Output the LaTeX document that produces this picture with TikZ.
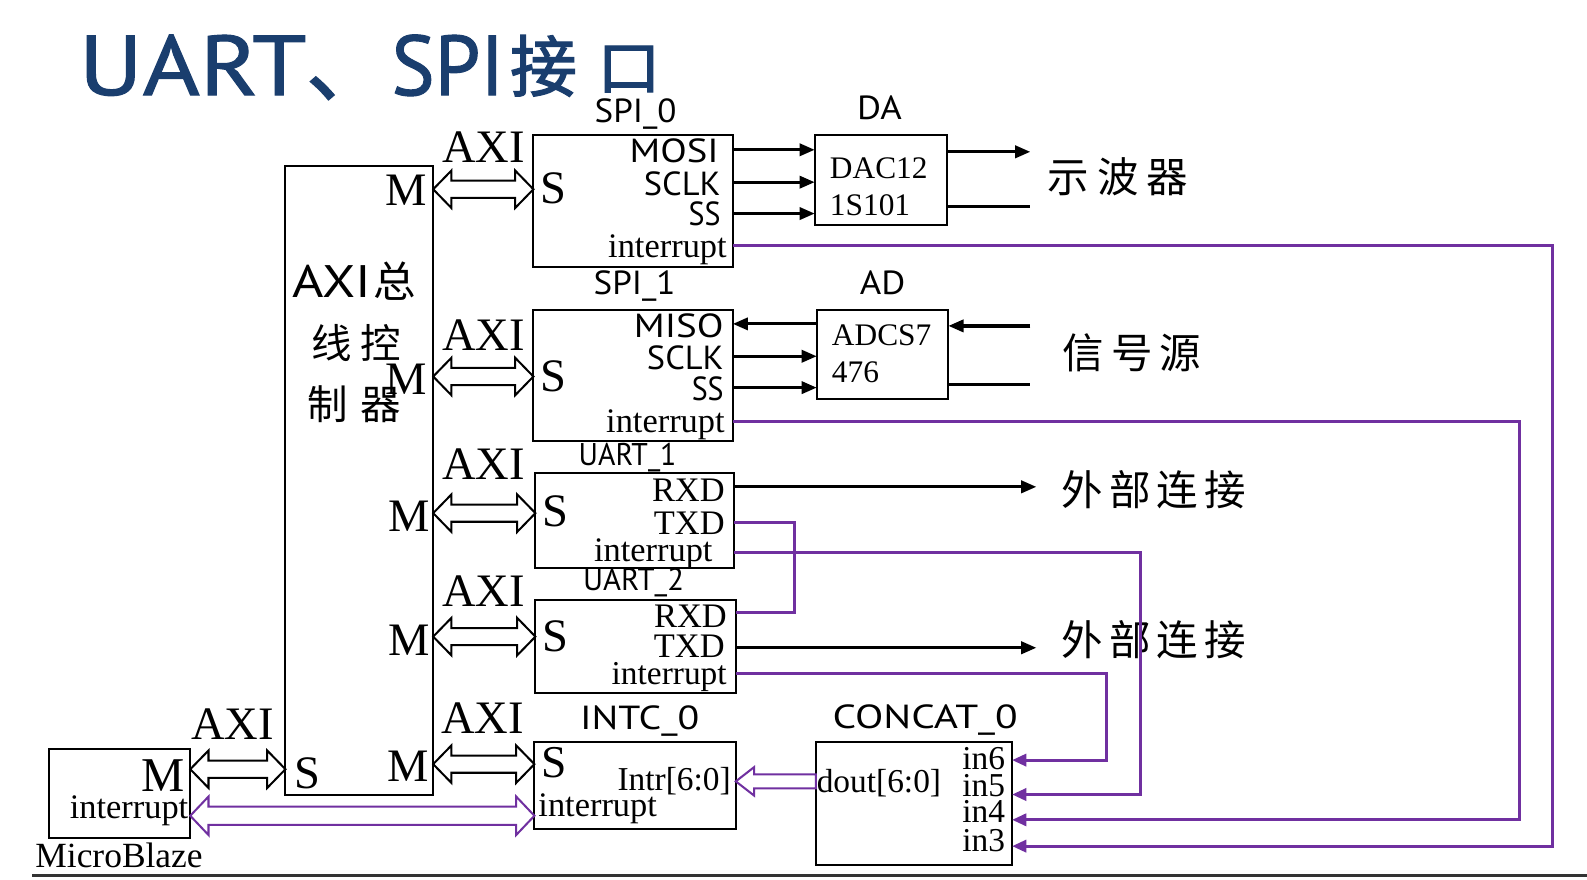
\documentclass[tikz,border=0pt]{standalone}
\usepackage{fontspec}
\setmainfont{Liberation Serif}
\newfontfamily\sansf{PT Sans}
\newfontfamily\titlef[FakeBold=1.2]{PT Sans}
\newfontfamily\cjk{Noto Sans CJK SC}
\newfontfamily\cjkt[FakeBold=2]{Noto Sans CJK SC}
\usetikzlibrary{arrows.meta,calc}
\definecolor{vpur}{HTML}{7030A0}
\definecolor{tblue}{RGB}{26,62,110}
\newcommand\fsz[1]{\fontsize{#1}{#1}\selectfont}
\newcommand\sx[2]{\scalebox{#1}[1]{#2}}
% hollow double arrow: #1 style, #2 left coord, #3 right coord, #4 shaft half, #5 head half
\newcommand\hollowdbl[5]{%
 \draw[#1] let \p1=(#2), \p2=(#3) in
  (\x1,\y1) -- (\x1+18pt,\y1+#5pt) -- (\x1+18pt,\y1+#4pt) -- (\x2-18pt,\y2+#4pt)
  -- (\x2-18pt,\y2+#5pt) -- (\x2,\y2) -- (\x2-18pt,\y2-#5pt) -- (\x2-18pt,\y2-#4pt)
  -- (\x1+18pt,\y1-#4pt) -- (\x1+18pt,\y1-#5pt) -- cycle;}
% hollow single arrow pointing left: #2 tip coord, #3 tail coord
\newcommand\hollowsgl[5]{%
 \draw[#1] let \p1=(#2), \p2=(#3) in
  (\x1,\y1) -- (\x1+18pt,\y1+#5pt) -- (\x1+18pt,\y1+#4pt) -- (\x2,\y2+#4pt)
  -- (\x2,\y2-#4pt) -- (\x1+18pt,\y1-#4pt) -- (\x1+18pt,\y1-#5pt) -- cycle;}
\begin{document}
\begin{tikzpicture}[x=1pt,y=-1pt,
  box/.style={draw,line width=2pt,inner sep=0,outer sep=0,anchor=north west},
  t/.style={inner sep=0,outer sep=0},
  sr/.style={t,font=\fsz{34}},
  big/.style={t,font=\fsz{46}},
  sa/.style={t,font=\sansf\fsz{33}},
  zh/.style={t,font=\cjk\fsz{41}},
  sig/.style={line width=3.2pt,black},
  sigarr/.style={sig,-{Triangle[length=15pt,width=12pt]}},
  pur/.style={line width=3pt,vpur},
  purarr/.style={pur,-{Triangle[length=14pt,width=12pt]}},
  hol/.style={line width=2pt,black,fill=white,line join=miter},
  holp/.style={line width=2pt,vpur,fill=white,line join=miter}]
\fill[white] (0,0) rectangle (1568,869);
\useasboundingbox (0,0) rectangle (1568,869);

% title
\node[t,anchor=base west,text=tblue,font=\titlef\fsz{84}] (title) at (78,94)
  {\sx{1.15}{UART}{\cjkt\fsz{80}、}\hspace{4pt}\sx{0.96}{SPI}\hspace{6pt}{\cjkt\fsz{66}\raisebox{4pt}{接}\hspace{20pt}\raisebox{6pt}{\fsz{58}\sx{1.08}{口}}}};

% boxes
\node[box,minimum width=146,minimum height=621] (bus) at (282,164) {};
\node[box,minimum width=197,minimum height=131] (spi0) at (527,133) {};
\node[box,minimum width=197,minimum height=130] (spi1) at (527,306) {};
\node[box,minimum width=196,minimum height=94] (uart1) at (529,467) {};
\node[box,minimum width=198,minimum height=92] (uart2) at (529,593) {};
\node[box,minimum width=199,minimum height=86] (intc) at (528,733) {};
\node[box,minimum width=194,minimum height=122] (concat) at (806,733) {};
\node[box,minimum width=140,minimum height=88] (mb) at (48,740) {};
\node[box,minimum width=131,minimum height=89] (da) at (805,133) {};
\node[box,minimum width=130,minimum height=88] (ad) at (807,306) {};

% bus text
\node[t,anchor=base west,font=\sansf\fsz{45}] (bt1) at (289,294) {\sx{1.18}{AXI}\hspace{2pt}{\cjk\fsz{42}总}};
\node[t,anchor=base west,font=\cjk\fsz{40}] (bt2) at (308,354) {线\hspace{8pt}控};
\node[t,anchor=base west,font=\cjk\fsz{40}] (bt3) at (304,414) {制\hspace{12pt}器};
\node[big,anchor=base west] (bs) at (291,779) {S};
\node[big,anchor=base east] (bm4) at (424,772) {M};

% SPI_0
\node[sa,anchor=base] (lspi0) at (628,121) {\sx{1.05}{SPI\_0}};
\node[sa,anchor=base east] (mosi) at (710,161) {\sx{1.16}{MOSI}};
\node[sa,anchor=base east] (sclk0) at (712,193) {\sx{1.03}{SCLK}};
\node[sa,anchor=base east] (ss0) at (712,223) {\sx{0.9}{SS}};
\node[sr,anchor=base east] (int0) at (718,254) {interrupt};
\node[big,anchor=base west] (s0) at (534,201) {S};
\node[big,anchor=base east] (m0) at (422,203) {M};
\node[big,anchor=base west] (axi0) at (437,161) {AXI};
% DA
\node[sa,anchor=base] (lda) at (869,118) {\sx{1.1}{DA}};
\node[t,font=\fsz{31},anchor=base west] (dac1) at (820,176) {DAC12};
\node[t,font=\fsz{31},anchor=base west] (dac2) at (820,213) {1S101};
\node[zh,anchor=base west] (osc) at (1035,190) {示\hspace{8pt}波\hspace{8pt}器};

% SPI_1
\node[sa,anchor=base] (lspi1) at (627,291) {\sx{1.05}{SPI\_1}};
\node[sa,anchor=base east] (miso) at (715,333) {\sx{1.17}{MISO}};
\node[sa,anchor=base east] (sclk1) at (715,365) {\sx{1.03}{SCLK}};
\node[sa,anchor=base east] (ss1) at (715,396) {\sx{0.9}{SS}};
\node[sr,anchor=base east] (int1) at (716,427) {interrupt};
\node[big,anchor=base west] (s1) at (534,387) {S};
\node[big,anchor=base east] (m1) at (422,390) {M};
\node[big,anchor=base west] (axi1) at (437,346) {AXI};
% AD
\node[sa,anchor=base] (lad) at (872,291) {\sx{1.1}{AD}};
\node[t,font=\fsz{31},anchor=base west] (adc1) at (822,341) {ADCS7};
\node[t,font=\fsz{31},anchor=base west] (adc2) at (822,378) {476};
\node[zh,anchor=base west] (src) at (1050,364) {信\hspace{7pt}号\hspace{7pt}源};

% UART_1
\node[sa,anchor=base,font=\sansf\fsz{31}] (lu1) at (620,460) {\sx{0.95}{UART\_1}};
\node[sr,anchor=base east] (rxd1) at (716,495) {RXD};
\node[sr,anchor=base east] (txd1) at (716,528) {TXD};
\node[sr,anchor=base east] (int2) at (704,555) {interrupt};
\node[big,anchor=base west] (s2) at (536,520) {S};
\node[big,anchor=base east] (m2) at (425,525) {M};
\node[big,anchor=base west] (axi2) at (437,474) {AXI};
\node[zh,anchor=base west] (ext1) at (1049,499) {外\hspace{6pt}部\hspace{6pt}连\hspace{6pt}接};

% UART_2
\node[sa,anchor=base,font=\sansf\fsz{31}] (lu2) at (626,583) {\sx{0.98}{UART\_2}};
\node[sr,anchor=base east] (rxd2) at (718,620) {RXD};
\node[sr,anchor=base east] (txd2) at (716,650) {TXD};
\node[sr,anchor=base east,font=\fsz{33}] (int3) at (718,676) {interrupt};
\node[big,anchor=base west] (s3) at (536,644) {S};
\node[big,anchor=base east] (m3) at (425,648) {M};
\node[big,anchor=base west] (axi3) at (437,599) {AXI};
\node[zh,anchor=base west] (ext2) at (1049,648) {外\hspace{6pt}部\hspace{6pt}连\hspace{6pt}接};

% INTC_0
\node[sa,anchor=base] (lintc) at (632,721) {\sx{1.19}{INTC\_0}};
\node[big,anchor=base west,font=\fsz{45}] (s4) at (535,768) {S};
\node[t,font=\fsz{33},anchor=base east] (intr) at (722,781) {Intr[6:0]};
\node[sr,anchor=base west] (int4) at (532,807) {interrupt};
\node[big,anchor=base west] (axi4) at (436,725) {AXI};

% CONCAT_0
\node[sa,anchor=base] (lcc) at (914,720) {\sx{1.24}{CONCAT\_0}};
\node[t,font=\fsz{33},anchor=base west] (dout) at (807,783) {dout[6:0]};
\node[t,font=\fsz{33},anchor=base east] (in6) at (993,760) {in6};
\node[t,font=\fsz{33},anchor=base east] (in5) at (993,787) {in5};
\node[t,font=\fsz{33},anchor=base east] (in4) at (993,813) {in4};
\node[t,font=\fsz{33},anchor=base east] (in3) at (993,841) {in3};

% MicroBlaze
\node[t,font=\fsz{48},anchor=base east] (mbm) at (182,782) {M};
\node[sr,anchor=base east] (mbint) at (186,809) {interrupt};
\node[sr,font=\fsz{35},anchor=base west] (lmb) at (35,857) {MicroBlaze};
\node[big,anchor=base west] (axi5) at (189,731) {AXI};

% AXI hollow arrows
\coordinate (a0l) at (bus.east |- 0,187);   \coordinate (a0r) at (spi0.west |- 0,187);
\coordinate (a1l) at (bus.east |- 0,372);   \coordinate (a1r) at (spi1.west |- 0,372);
\coordinate (a2l) at (bus.east |- 0,507);   \coordinate (a2r) at (uart1.west |- 0,507);
\coordinate (a3l) at (bus.east |- 0,629);   \coordinate (a3r) at (uart2.west |- 0,629);
\coordinate (a4l) at (bus.east |- 0,755);   \coordinate (a4r) at (intc.west |- 0,755);
\coordinate (a5l) at (mb.east |- 0,760);    \coordinate (a5r) at (bus.west |- 0,760);
\coordinate (a6l) at (mb.east |- 0,806);    \coordinate (a6r) at (intc.west |- 0,806);
\coordinate (a7l) at (intc.east |- 0,772);  \coordinate (a7r) at (concat.west |- 0,772);
\hollowdbl{hol}{a0l}{a0r}{8.5}{18.5}
\hollowdbl{hol}{a1l}{a1r}{8.5}{18.5}
\hollowdbl{hol}{a2l}{a2r}{8.5}{18.5}
\hollowdbl{hol}{a3l}{a3r}{8.5}{18.5}
\hollowdbl{hol}{a4l}{a4r}{8.5}{18.5}
\hollowdbl{hol}{a5l}{a5r}{8.5}{18.5}
\hollowdbl{holp}{a6l}{a6r}{9}{19}
\hollowsgl{holp}{a7l}{a7r}{7}{14}

% SPI_0 -> DA
\draw[sigarr] (spi0.east |- 0,148) -- (da.west |- 0,148);
\draw[sigarr] (spi0.east |- 0,180) -- (da.west |- 0,180);
\draw[sigarr] (spi0.east |- 0,211) -- (da.west |- 0,211);
\coordinate (dao1) at (1018,150); \coordinate (dao2) at (1018,204);
\draw[sigarr] (da.east |- dao1) -- (dao1);
\draw[sig] (da.east |- dao2) -- (dao2);

% SPI_1 <-> AD
\draw[sigarr] (ad.west |- 0,320) -- (spi1.east |- 0,320);
\draw[sigarr] (spi1.east |- 0,352) -- (ad.west |- 0,352);
\draw[sigarr] (spi1.east |- 0,383) -- (ad.west |- 0,383);
\coordinate (adi1) at (1018,322); \coordinate (adi2) at (1018,380);
\draw[sigarr] (adi1) -- (ad.east |- adi1);
\draw[sig] (ad.east |- adi2) -- (adi2);

% UART external
\coordinate (u1o) at (1024,481); \coordinate (u2o) at (1024,640);
\draw[sigarr] (uart1.east |- u1o) -- (u1o);
\draw[sigarr] (uart2.east |- u2o) -- (u2o);

% UART TXD -> RXD loop
\draw[pur] (uart1.east |- 0,516) -- (785,516) -- (785,605) -- (uart2.east |- 0,605);

% interrupts to concat
\draw[purarr] (uart2.east |- 0,665) -- (1093,665) -- (1093,751) -- (concat.east |- 0,751);
\draw[purarr] (uart1.east |- 0,546) -- (1127,546) -- (1127,785) -- (concat.east |- 0,785);
\draw[purarr] (spi1.east |- 0,416) -- (1501,416) -- (1501,810) -- (concat.east |- 0,810);
\draw[purarr] (spi0.east |- 0,243) -- (1534,243) -- (1534,836) -- (concat.east |- 0,836);

% bottom rule
\coordinate (rl) at (32,865); \coordinate (rr) at (1568,865);
\draw[line width=2pt,black!80] (rl) -- (rr);
\end{tikzpicture}
\end{document}
